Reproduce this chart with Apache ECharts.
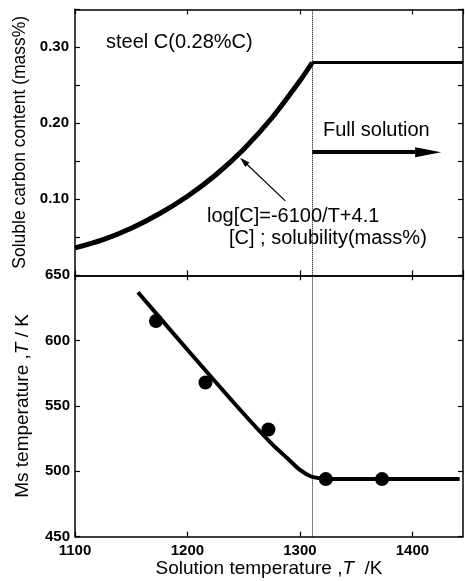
<!DOCTYPE html>
<html><head><meta charset="utf-8">
<script src="https://cdn.jsdelivr.net/npm/echarts@6/dist/echarts.min.js"></script>
<style>html,body{margin:0;padding:0;background:#fff}#c{width:465px;height:581px}</style>
</head><body><div id="c"></div>
<script>
// Top panel: soluble carbon content vs solution temperature
const solT = [1100, 1125, 1150, 1175, 1200, 1225, 1250, 1275, 1300, 1311];
const solC = [0.036, 0.047, 0.062, 0.081, 0.104, 0.132, 0.166, 0.207, 0.256, 0.280];
const fullT = [1311, 1445];
const fullC = [0.280, 0.280];
// Bottom panel: Ms temperature
const msLineT = [1156, 1200, 1250, 1275, 1290, 1300, 1310, 1320, 1340, 1442];
const msLineV = [637, 593, 544, 521, 509, 501, 496, 494.5, 494, 494];
const msPtT = [1172, 1216, 1272, 1323, 1373];
const msPtV = [615, 568, 532, 494, 494];
const solLimitT = 1311;
const arrowY = 0.162, arrowEndT = 1414;
const noteFrom = [1287, 0.098], noteTo = [1250, 0.150];

const FONT = '"Liberation Sans", Arial, sans-serif';
const zip = (a, b) => a.map((v, i) => [v, b[i]]);

const tickStyle = { show: true, inside: true, length: 5, lineStyle: { color: '#000', width: 1.2 } };
const lineStyle = { show: true, onZero: false, lineStyle: { color: '#000', width: 1.5 } };
const lbl = { color: '#000', fontFamily: FONT, fontSize: 15, fontWeight: 'bold' };
const italicRich = { i: { fontStyle: 'italic', fontFamily: FONT, color: '#000' } };

function xAx(grid, pos, labels) {
  return {
    type: 'value', gridIndex: grid, position: pos, min: 1100, max: 1445, interval: 100,
    axisLine: lineStyle, axisTick: tickStyle, splitLine: { show: false },
    axisLabel: labels ? Object.assign({ margin: 7, showMaxLabel: false, formatter: v => String(v) }, lbl) : { show: false },
    name: labels ? 'Solution temperature ,{i|T}  /K' : '',
    nameLocation: 'middle', nameGap: 22,
    nameTextStyle: { color: '#000', fontFamily: FONT, fontSize: 19,
      rich: { i: { fontStyle: 'italic', fontFamily: FONT, fontSize: 19, color: '#000' } } }
  };
}

const option = {
  animation: false,
  backgroundColor: '#fff',
  grid: [
    { left: 75, top: 9.3, width: 388, height: 266 },
    { left: 75, top: 275.3, width: 388, height: 261.3 }
  ],
  xAxis: [
    xAx(0, 'bottom', false), xAx(0, 'top', false),
    xAx(1, 'bottom', true), xAx(1, 'top', false)
  ],
  yAxis: [
    { type: 'value', gridIndex: 0, position: 'left', min: 0, max: 0.35, interval: 0.05,
      axisLine: lineStyle, axisTick: tickStyle, splitLine: { show: false },
      axisLabel: Object.assign({ margin: 6,
        formatter: v => (v > 0.001 && Math.abs(Math.round(v * 100) % 10) === 0) ? v.toFixed(2) : '' }, lbl),
      name: 'Soluble carbon content (mass%)', nameLocation: 'middle', nameGap: 42,
      nameTextStyle: { color: '#000', fontFamily: FONT, fontSize: 17.5 } },
    { type: 'value', gridIndex: 0, position: 'right', min: 0, max: 0.35, interval: 0.05,
      axisLine: lineStyle, axisTick: tickStyle, splitLine: { show: false }, axisLabel: { show: false } },
    { type: 'value', gridIndex: 1, position: 'left', min: 450, max: 650, interval: 50,
      axisLine: lineStyle, axisTick: tickStyle, splitLine: { show: false },
      axisLabel: Object.assign({ margin: 5 }, lbl),
      name: 'Ms temperature ,{i|T} / K', nameLocation: 'middle', nameGap: 43,
      nameTextStyle: { color: '#000', fontFamily: FONT, fontSize: 19,
        rich: { i: { fontStyle: 'italic', fontFamily: FONT, fontSize: 19, color: '#000' } } } },
    { type: 'value', gridIndex: 1, position: 'right', min: 450, max: 650, interval: 50,
      axisLine: lineStyle, axisTick: tickStyle, splitLine: { show: false }, axisLabel: { show: false } }
  ],
  series: [
    { type: 'line', xAxisIndex: 0, yAxisIndex: 0, data: zip(solT, solC), smooth: 0.3,
      showSymbol: false, lineStyle: { color: '#000', width: 5 },
      markLine: { silent: true, symbol: 'none', label: { show: false },
        lineStyle: { color: '#000', width: 1, type: 'dotted' },
        data: [{ xAxis: solLimitT }] } },
    { type: 'line', xAxisIndex: 0, yAxisIndex: 0, data: zip(fullT, fullC),
      showSymbol: false, lineStyle: { color: '#000', width: 3 },
      markLine: { silent: true, symbol: ['none', 'triangle'], symbolSize: [10, 26], label: { show: false },
        lineStyle: { color: '#000', width: 4, type: 'solid' },
        data: [[{ coord: [solLimitT, arrowY] }, { coord: [arrowEndT, arrowY] }]] } },
    { type: 'line', xAxisIndex: 0, yAxisIndex: 0, data: [],
      markLine: { silent: true, symbol: ['none', 'triangle'], symbolSize: [6, 10], label: { show: false },
        lineStyle: { color: '#000', width: 1.2, type: 'solid' },
        data: [[{ coord: noteFrom }, { coord: noteTo }]] } },
    { type: 'line', xAxisIndex: 2, yAxisIndex: 2, data: zip(msLineT, msLineV), smooth: 0.25,
      showSymbol: false, lineStyle: { color: '#000', width: 4 },
      markLine: { silent: true, symbol: 'none', label: { show: false },
        lineStyle: { color: '#000', width: 1, type: 'dotted' },
        data: [{ xAxis: solLimitT }] } },
    { type: 'scatter', xAxisIndex: 2, yAxisIndex: 2, data: zip(msPtT, msPtV),
      symbol: 'circle', symbolSize: 14, itemStyle: { color: '#000', opacity: 1 } }
  ],
  graphic: [
    { type: 'text', x: 106, y: 42, style: { text: 'steel C(0.28%C)', font: '20px ' + FONT, fill: '#000', verticalAlign: 'middle' } },
    { type: 'text', x: 323, y: 130, style: { text: 'Full solution', font: '20px ' + FONT, fill: '#000', verticalAlign: 'middle' } },
    { type: 'text', x: 207, y: 216, style: { text: 'log[C]=-6100/T+4.1', font: '20px ' + FONT, fill: '#000', verticalAlign: 'middle' } },
    { type: 'text', x: 229, y: 238, style: { text: '[C] ; solubility(mass%)', font: '20px ' + FONT, fill: '#000', verticalAlign: 'middle' } }
  ]
};
const chart = echarts.init(document.getElementById('c'), null, { renderer: 'canvas' });
chart.setOption(option);
</script></body></html>
